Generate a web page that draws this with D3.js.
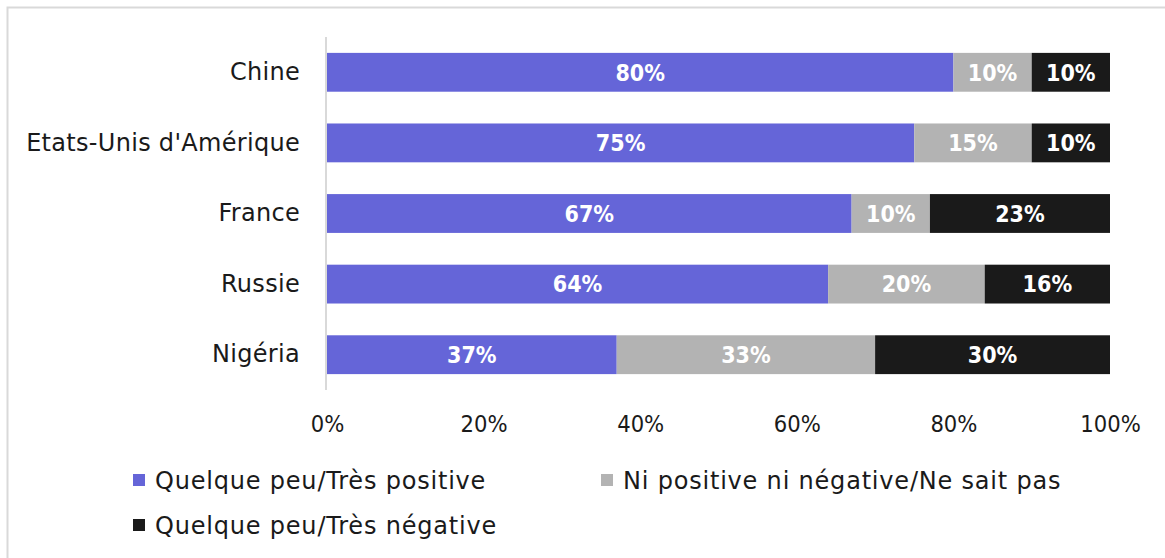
<!DOCTYPE html>
<html>
<head>
<meta charset="utf-8">
<script src="https://cdn.jsdelivr.net/npm/d3@7"></script>
<style>
  html, body { margin: 0; padding: 0; background: #fff; }
  svg { display: block; }
  text { font-family: "DejaVu Sans", sans-serif; }
</style>
</head>
<body>
<svg id="chart" width="1165" height="558"></svg>
<script>
// Countries, top to bottom
const categories = ["Chine", "Etats-Unis d'Amérique", "France", "Russie", "Nigéria"];
// Opinion shares (%) per country
const positive = [80, 75, 67, 64, 37];
const neutral  = [10, 15, 10, 20, 33];
const negative = [10, 10, 23, 16, 30];
const seriesNames = ["Quelque peu/Très positive", "Ni positive ni négative/Ne sait pas", "Quelque peu/Très négative"];
const seriesColors = ["#6565d8", "#b3b3b3", "#1a1a1a"];
const tickValues = [0, 20, 40, 60, 80, 100];

const svg = d3.select("#chart");

// Outer frame (top and left edges visible)
svg.append("rect")
  .attr("x", 7.5).attr("y", 7.5)
  .attr("width", 1200).attr("height", 600)
  .attr("fill", "none").attr("stroke", "#d9d9d9").attr("stroke-width", 2);

const x = d3.scaleLinear().domain([0, 100]).range([327, 1110]);
const y = d3.scaleBand().domain(categories).range([37, 390]).paddingInner(0.45).paddingOuter(0.225);

const rows = categories.map((c, i) => ({ country: c, positive: positive[i], neutral: neutral[i], negative: negative[i] }));
const stack = d3.stack().keys(["positive", "neutral", "negative"]);
const layers = stack(rows);

const g = svg.append("g");
layers.forEach((layer, li) => {
  const lg = g.append("g");
  lg.selectAll("rect").data(layer).join("rect")
    .attr("x", d => x(d[0]))
    .attr("y", d => y(d.data.country))
    .attr("width", d => x(d[1]) - x(d[0]))
    .attr("height", y.bandwidth())
    .attr("fill", seriesColors[li]);
  lg.selectAll("text").data(layer).join("text")
    .attr("x", d => (x(d[0]) + x(d[1])) / 2)
    .attr("y", d => y(d.data.country) + y.bandwidth() / 2)
    .attr("dy", "0.36em")
    .attr("text-anchor", "middle")
    .attr("fill", "#fff")
    .attr("font-weight", "bold")
    .attr("font-size", 23)
    .style("font-family", "'DejaVu Sans Condensed', 'DejaVu Sans', sans-serif")
    .text(d => (d[1] - d[0]) + "%");
});

// Vertical category axis line
svg.append("line")
  .attr("x1", 326).attr("x2", 326)
  .attr("y1", 37).attr("y2", 390)
  .attr("stroke", "#d9d9d9").attr("stroke-width", 2);

// Category labels
const yAxis = d3.axisLeft(y).tickSize(0).tickPadding(26);
const yg = svg.append("g").attr("transform", "translate(326,0)").call(yAxis);
yg.select(".domain").remove();
yg.selectAll("text").attr("font-size", 24).attr("fill", "#1a1a1a")
  .attr("letter-spacing", 0.3)
  .style("font-family", "'DejaVu Sans', sans-serif");

// Percentage axis
const xAxis = d3.axisBottom(x).tickValues(tickValues).tickSize(0).tickPadding(0).tickFormat(d => d + "%");
const xg = svg.append("g").attr("transform", "translate(0,414)").call(xAxis);
xg.select(".domain").remove();
xg.selectAll("text").attr("font-size", 23.5).attr("fill", "#1a1a1a").attr("dy", "0.75em")
  .style("font-family", "'DejaVu Sans Condensed', 'DejaVu Sans', sans-serif");

// Legend
const legendPos = [[133, 480], [601, 480], [133, 525]];
const lgd = svg.append("g");
seriesNames.forEach((name, i) => {
  const [lx, ly] = legendPos[i];
  lgd.append("rect").attr("x", lx).attr("y", ly - 6).attr("width", 12).attr("height", 12).attr("fill", seriesColors[i]);
  lgd.append("text").attr("x", lx + 22).attr("y", ly).attr("dy", "0.36em")
    .attr("font-size", 24).attr("letter-spacing", 0.8).attr("fill", "#1a1a1a").text(name);
});
</script>
</body>
</html>
